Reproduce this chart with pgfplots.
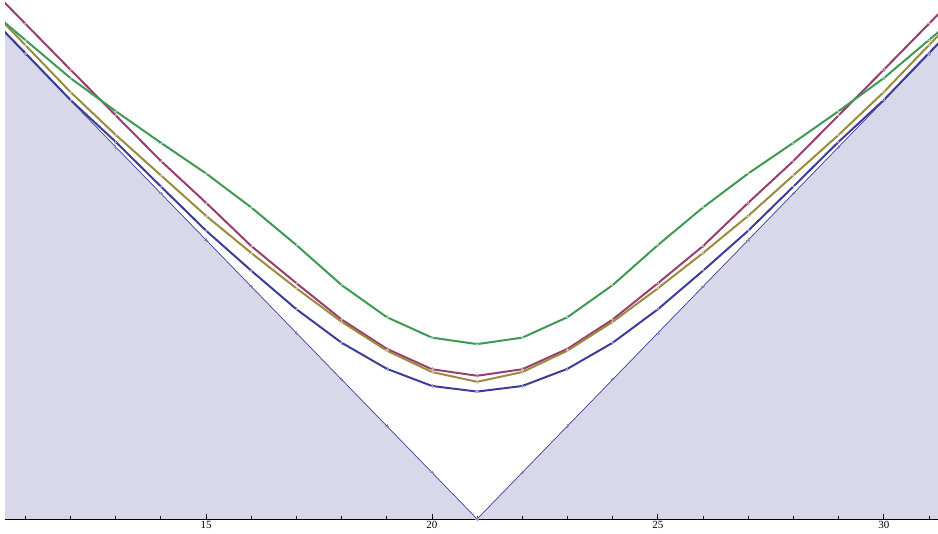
\documentclass[border=0pt]{standalone}
\usepackage{pgfplots}
\pgfplotsset{compat=1.18}
\usepackage{fontspec}
\setmainfont{Liberation Serif}

\definecolor{mblue}{rgb}{0.24,0.24,0.60}
\definecolor{mmag}{rgb}{0.60,0.24,0.44}
\definecolor{molive}{rgb}{0.60,0.55,0.24}
\definecolor{mgreen}{rgb}{0.24,0.60,0.33}
\definecolor{vfill}{RGB}{216,216,234}

\begin{document}
\begin{tikzpicture}
\begin{axis}[
    name=main,
    scale only axis,
    width=933bp, height=519bp,
    xmin=10.55, xmax=31.2,
    ymin=0, ymax=11.16,
    axis on top,
    axis x line=bottom,
    axis y line=none,
    axis line style={-, black, line width=1pt},
    xtick={15,20,25,30},
    minor xtick={11,12,...,31},
    tick align=inside,
    major tick length=5bp,
    minor tick length=3bp,
    tick style={black, line width=0.8pt},
    xticklabel style={font=\fontsize{11}{12}\selectfont, yshift=1bp},
    /pgf/number format/assume math mode=true,
    clip=true,
]

% shaded region under the V
\addplot[draw=none, fill=vfill] coordinates {
    (10,11)(11,10)(12,9)(13,8)(14,7)(15,6)(16,5)(17,4)(18,3)(19,2)(20,1)(21,0)
    (22,1)(23,2)(24,3)(25,4)(26,5)(27,6)(28,7)(29,8)(30,9)(31,10)(32,11)
} \closedcycle;

% thin V boundary
\addplot[mblue, line width=0.7pt, mark=+, mark size=1.8pt,
    mark options={mblue!60, line width=0.5pt}] coordinates {
    (10,11)(11,10)(12,9)(13,8)(14,7)(15,6)(16,5)(17,4)(18,3)(19,2)(20,1)(21,0)
    (22,1)(23,2)(24,3)(25,4)(26,5)(27,6)(28,7)(29,8)(30,9)(31,10)(32,11)
};

% blue
\addplot[mblue, line width=2pt, mark=+, mark size=1.8pt,
    mark options={mblue!50, line width=0.5pt}] coordinates {
    (10,11.02)(11,10.02)(12,9.01)(13,8.11)(14,7.15)(15,6.20)(16,5.34)(17,4.51)(18,3.79)(19,3.23)(20,2.86)(21,2.74)
    (22,2.86)(23,3.23)(24,3.79)(25,4.51)(26,5.34)(27,6.20)(28,7.15)(29,8.11)(30,9.01)(31,10.02)(32,11.02)
};

% magenta
\addplot[mmag, line width=2pt, mark=+, mark size=1.8pt,
    mark options={mmag!50, line width=0.5pt}] coordinates {
    (10,11.64)(11,10.65)(12,9.66)(13,8.68)(14,7.70)(15,6.80)(16,5.87)(17,5.07)(18,4.29)(19,3.66)(20,3.22)(21,3.08)
    (22,3.22)(23,3.66)(24,4.29)(25,5.07)(26,5.87)(27,6.80)(28,7.70)(29,8.68)(30,9.66)(31,10.65)(32,11.64)
};

% olive
\addplot[molive, line width=2pt, mark=+, mark size=1.8pt,
    mark options={molive!50, line width=0.5pt}] coordinates {
    (10,11.20)(11,10.19)(12,9.18)(13,8.26)(14,7.39)(15,6.52)(16,5.72)(17,4.96)(18,4.24)(19,3.62)(20,3.16)(21,2.95)
    (22,3.16)(23,3.62)(24,4.24)(25,4.96)(26,5.72)(27,6.52)(28,7.39)(29,8.26)(30,9.18)(31,10.19)(32,11.20)
};

% green
\addplot[mgreen, line width=2pt, mark=+, mark size=1.8pt,
    mark options={mgreen!50, line width=0.5pt}] coordinates {
    (10,11.12)(11,10.30)(12,9.48)(13,8.77)(14,8.09)(15,7.43)(16,6.70)(17,5.89)(18,5.03)(19,4.34)(20,3.90)(21,3.76)
    (22,3.90)(23,4.34)(24,5.03)(25,5.89)(26,6.70)(27,7.43)(28,8.09)(29,8.77)(30,9.48)(31,10.30)(32,11.12)
};

\end{axis}
\pgfresetboundingbox
\path ([xshift=-5bp, yshift=-15bp]main.south west) rectangle (main.north east);
\end{tikzpicture}
\end{document}
